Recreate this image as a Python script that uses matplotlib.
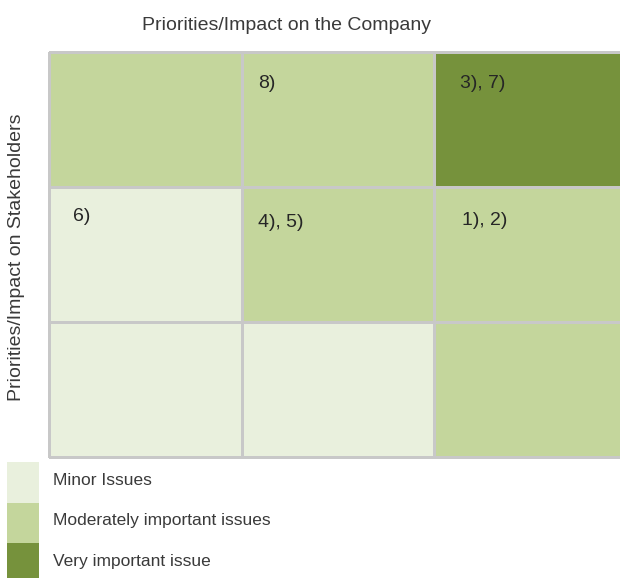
import matplotlib
matplotlib.use("Agg")
import matplotlib.pyplot as plt
import numpy as np
from matplotlib.colors import ListedColormap
from matplotlib.patches import Rectangle

plt.rcParams['font.family'] = ['Liberation Sans', 'DejaVu Sans']

# ---- data ----
level_names = ["Minor Issues", "Moderately important issues", "Very important issue"]
level_colors = ["#e9f0dd", "#c4d69c", "#76923c"]
# rows from top (high stakeholder impact) to bottom; columns left to right
cell_levels = [
    [1, 1, 2],
    [0, 1, 1],
    [0, 0, 1],
]
cell_labels = {
    (0, 1): "8)",
    (0, 2): "3), 7)",
    (1, 0): "6)",
    (1, 1): "4), 5)",
    (1, 2): "1), 2)",
}
x_title = "Priorities/Impact on the Company"
y_title = "Priorities/Impact on Stakeholders"

# ---- layout helpers (pixels) ----
W, H = 620, 578
fig = plt.figure(figsize=(W / 100, H / 100), dpi=100)

def frac_rect(x0, y0, w, h):
    return [x0 / W, (H - y0 - h) / H, w / W, h / H]

col_w, row_h = 192.5, 135
grid_left, grid_top = 49, 52
ax = fig.add_axes(frac_rect(grid_left, grid_top, 3 * col_w, 3 * row_h))
ax.set_xlim(0, 3)
ax.set_ylim(3, 0)
ax.axis('off')

levels = np.array(cell_levels)
cmap = ListedColormap(level_colors)
ax.pcolormesh(np.arange(4), np.arange(4), levels, cmap=cmap, vmin=-0.5, vmax=2.5,
              edgecolors='none', antialiased=False, zorder=1)
nr, nc = levels.shape
ax.hlines(np.arange(nr + 1), 0, nc, colors='#c8c8c8', linewidth=0.75,
          antialiased=False, snap=True, zorder=2, clip_on=False)
ax.vlines(np.arange(nc + 1), 0, nr, colors='#c8c8c8', linewidth=0.75,
          antialiased=False, snap=True, zorder=2, clip_on=False)

# label offsets within cells (fraction of cell)
label_offsets = {
    (0, 1): (0.085, 0.237),
    (0, 2): (0.135, 0.237),
    (1, 0): (0.125, 0.22),
    (1, 1): (0.085, 0.26),
    (1, 2): (0.145, 0.245),
}
for (r, c), txt in cell_labels.items():
    dx, dy = label_offsets[(r, c)]
    ax.text(c + dx, r + dy, txt, fontsize=14, color='#262626', ha='left', va='center', zorder=3)

fig.text(287 / W, 1 - 25 / H, x_title, fontsize=14, color='#3a3a3a', ha='center', va='center')
fig.text(17 / W, 1 - 257 / H, y_title, fontsize=14, color='#3a3a3a', ha='center', va='center',
         rotation=90)

# ---- legend ----
lax = fig.add_axes([0, 0, 1, 1])
lax.set_xlim(0, W)
lax.set_ylim(H, 0)
lax.axis('off')
sw_top, sw_h = 462, 40.5
for i, (name, colr) in enumerate(zip(level_names, level_colors)):
    y0 = sw_top + i * sw_h
    lax.add_patch(Rectangle((7, y0), 32, sw_h, facecolor=colr, edgecolor='none'))
    lax.text(53, y0 + sw_h / 2 - 2, name, fontsize=12.5, color='#3a3a3a', ha='left', va='center')

fig.savefig("out.png", dpi=100)
